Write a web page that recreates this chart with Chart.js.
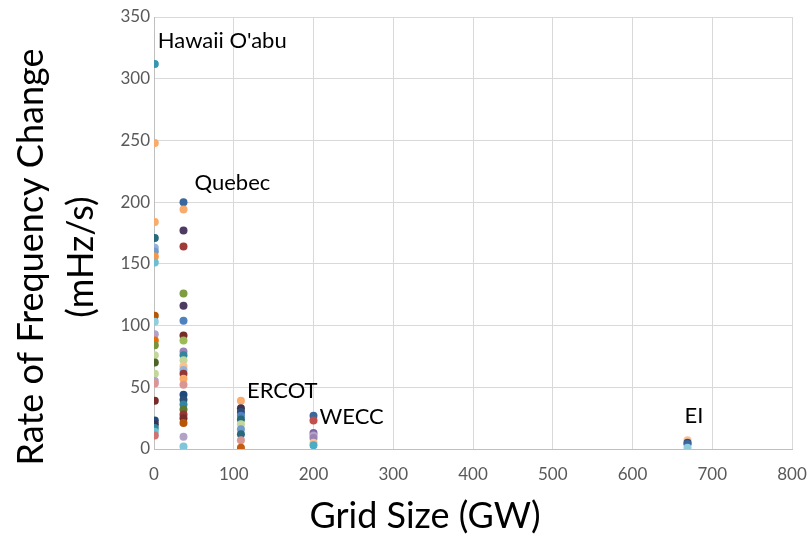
<!DOCTYPE html>
<html>
<head>
<meta charset="utf-8">
<script src="https://cdn.jsdelivr.net/npm/chart.js@4.4.1/dist/chart.umd.min.js"></script>
<style>
  html, body { margin: 0; padding: 0; background: #fff; }
  #wrap { width: 809px; height: 539px; }
</style>
</head>
<body>
<div id="wrap"><canvas id="rocofChart"></canvas></div>
<script>
// Grid names and their sizes (GW)
const regions = ["Hawaii O'abu", 'Quebec', 'ERCOT', 'WECC', 'EI'];
const gridSizes = [1, 37, 109, 200, 669];

// Rate of frequency change per event (mHz/s)
const hawaiiRocof = [312, 248, 184, 171, 163, 160, 156, 151, 108, 103, 93, 88, 84, 76, 70, 61, 55, 53, 39, 23, 20, 17, 14, 11];
const quebecRocof = [200, 194, 177, 164, 126, 116, 104, 92, 88, 79, 76, 72, 67, 64, 61, 57, 52, 44, 40, 36, 32, 28, 25, 21, 10, 2];
const ercotRocof = [39, 33, 30, 27, 24, 20, 16, 12, 7, 1];
const weccRocof = [27, 23, 13, 11, 9, 5, 3];
const eiRocof = [7, 5, 4, 1];

// axis titles
const xTitle = 'Grid Size (GW)';
const yTitle = ['Rate of Frequency Change', '(mHz/s)'];

// marker colours, one per event
const hawaiiColors = ['#3596B1', '#F9AB6B', '#F9AB6B', '#276A7C', '#95B3D7', '#729ACA', '#F79646', '#6FBDD1',
  '#B65708', '#93CDDD', '#B3A2C7', '#E46C0A', '#77933C', '#C3D69B', '#4F6228', '#C3D69B', '#B3A2C7', '#D99694',
  '#772C2A', '#1F497D', '#403152', '#31859C', '#6FBDD1', '#CD7371'];
const quebecColors = ['#3A679C', '#F9AB6B', '#4D3B62', '#9F3B38', '#7E9C40', '#4D3B62', '#4F81BD', '#772C2A',
  '#9BBB59', '#9983B5', '#31859C', '#C3D69B', '#FAC090', '#95B3D7', '#943634', '#F9AB6B', '#D99694', '#1F497D',
  '#2C4D75', '#31859C', '#5F7530', '#943634', '#772C2A', '#B65708', '#B3A2C7', '#7FC6DA'];
const ercotColors = ['#F9AB6B', '#403152', '#2C4D75', '#4F81BD', '#276A7C', '#C3D69B', '#729ACA', '#276A7C', '#D99694', '#C55A11'];
const weccColors = ['#3A679C', '#C0504D', '#8064A2', '#B3A2C7', '#9983B5', '#FAC090', '#4BACC6'];
const eiColors = ['#FAC090', '#2C4D75', '#3A679C', '#93CDDD'];

const series = [hawaiiRocof, quebecRocof, ercotRocof, weccRocof, eiRocof];
const colorSets = [hawaiiColors, quebecColors, ercotColors, weccColors, eiColors];

// where each grid's name sits relative to its highest point (px)
const labelOffsets = [[3, -16], [11, -12], [6, -3], [6, 8], [-3, -17]];

const FONT = 'Lato, "Open Sans", sans-serif';

const datasets = series.map((vals, i) => ({
  label: regions[i],
  data: vals.map(v => ({ x: gridSizes[i], y: v })),
  pointBackgroundColor: colorSets[i],
  pointBorderWidth: 0,
  pointRadius: 4,
  pointHoverRadius: 4,
  showLine: false,
}));

// grid names next to their columns, plus the axis titles
const annotations = {
  id: 'annotations',
  afterDatasetsDraw(chart) {
    const { ctx, chartArea, scales: { x, y } } = chart;
    ctx.save();
    ctx.fillStyle = '#000';
    ctx.font = '22px ' + FONT;
    ctx.textBaseline = 'alphabetic';
    ctx.textAlign = 'left';
    regions.forEach((name, i) => {
      const top = Math.max(...series[i]);
      const px = x.getPixelForValue(gridSizes[i]) + labelOffsets[i][0];
      const py = y.getPixelForValue(top) + labelOffsets[i][1];
      ctx.fillText(name, px, py);
    });

    ctx.font = '36px ' + FONT;
    ctx.textAlign = 'center';
    ctx.textBaseline = 'middle';
    ctx.fillText(xTitle, (chartArea.left + chartArea.right) / 2 - 48, chartArea.bottom + 67);

    ctx.translate(0, (chartArea.top + chartArea.bottom) / 2 + 24);
    ctx.rotate(-Math.PI / 2);
    yTitle.forEach((line, i) => ctx.fillText(line, 0, 31 + i * 50));
    ctx.restore();
  }
};

new Chart(document.getElementById('rocofChart').getContext('2d'), {
  type: 'scatter',
  data: { datasets },
  options: {
    responsive: true,
    maintainAspectRatio: false,
    animation: false,
    layout: { padding: { top: 17, right: 17, left: 0, bottom: 0 } },
    plugins: { legend: { display: false }, tooltip: { enabled: false } },
    scales: {
      x: {
        type: 'linear',
        min: 0,
        max: 800,
        ticks: { stepSize: 100, color: '#595959', padding: 15, font: { family: FONT, size: 17 } },
        grid: { color: '#D9D9D9', tickLength: 0 },
        border: { color: '#BFBFBF' },
        afterFit(scale) {
          scale.height = 90;
          scale.paddingLeft = 0;
          scale.paddingRight = 0;
        },
      },
      y: {
        type: 'linear',
        min: 0,
        max: 350,
        ticks: { stepSize: 50, color: '#595959', padding: 4, font: { family: FONT, size: 17 } },
        grid: { color: '#D9D9D9', tickLength: 0 },
        border: { color: '#BFBFBF' },
        afterFit(scale) {
          scale.width = 154;
          scale.paddingTop = 0;
          scale.paddingBottom = 0;
        },
      },
    },
  },
  plugins: [annotations],
});
</script>
</body>
</html>
